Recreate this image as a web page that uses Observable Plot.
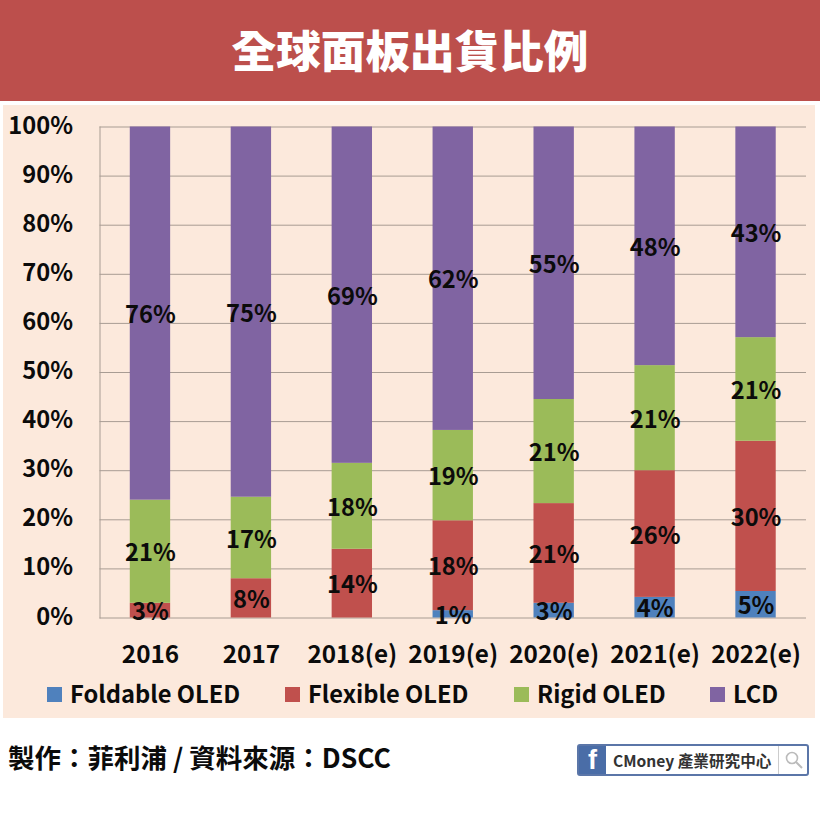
<!DOCTYPE html>
<html lang="zh-Hant">
<head>
<meta charset="utf-8">
<script src="https://cdn.jsdelivr.net/npm/d3@7"></script>
<script src="https://cdn.jsdelivr.net/npm/@observablehq/plot@0.6"></script>
<style>
html,body{margin:0;padding:0;background:#fff;}
body{width:820px;height:820px;position:relative;overflow:hidden;font-family:"Noto Sans CJK TC","Noto Sans",sans-serif;color:#0b0b0b;}
#head{position:absolute;left:0;top:0;width:820px;height:101px;background:#BC4F4C;color:#fff;font-size:44.6px;font-weight:900;line-height:97px;text-align:center;}
#panel{position:absolute;left:3px;top:105px;width:812px;height:613px;background:#FCE9DC;}
#chart{position:absolute;left:0;top:105px;}
#chart svg{background:transparent;display:block;}
.lg{position:absolute;top:679px;height:30px;line-height:30px;font-size:23.7px;font-weight:700;white-space:nowrap;}
.lg i{position:absolute;left:-23px;top:8px;width:15px;height:15px;}
.lg span{position:relative;top:-1px;}
#foot{position:absolute;left:8px;top:739px;font-size:26.5px;font-weight:700;line-height:36px;white-space:nowrap;}
#badge{position:absolute;left:577px;top:744px;width:232px;height:32px;box-sizing:border-box;border:2px solid #5B76A8;border-radius:3px;background:#fff;}
#fb{position:absolute;left:0;top:0;width:27px;height:28px;background:#4A6DA7;color:#fff;font:700 27px/28px "Liberation Sans",sans-serif;text-align:center;}
#bt{position:absolute;left:34px;top:0;height:28px;line-height:28px;font-size:15.6px;font-weight:700;color:#333;white-space:nowrap;}
#mag{position:absolute;left:199px;top:0;width:29px;height:28px;border-left:1px solid #ccc;}
</style>
</head>
<body>
<div id="head">全球面板出貨比例</div>
<div id="panel"></div>
<div id="chart"></div>
<div id="legend"></div>
<div id="foot">製作：菲利浦 / 資料來源：DSCC</div>
<div id="badge"><div id="fb">f</div><div id="bt">CMoney 產業研究中心</div><div id="mag"><svg width="29" height="28" viewBox="0 0 29 28"><circle cx="13" cy="12" r="5.5" fill="none" stroke="#bbb" stroke-width="1.6"/><line x1="17" y1="16" x2="23" y2="22" stroke="#bbb" stroke-width="2"/></svg></div></div>
<script>
const years = ["2016","2017","2018(e)","2019(e)","2020(e)","2021(e)","2022(e)"];
const seriesNames = ["Foldable OLED","Flexible OLED","Rigid OLED","LCD"];
const seriesColors = ["#4F81BD","#C0504D","#9BBB59","#8064A2"];
const foldable = [0,0,0,1.5,3,4.2,5.4];
const flexible = [3,8,14,18.3,20.3,25.8,30.6];
const rigid = [21,16.6,17.5,18.4,21.2,21.4,21.1];
const lcd = [76,75.4,68.5,61.8,55.5,48.6,42.9];
const foldableLabels = ["","","","1%","3%","4%","5%"];
const flexibleLabels = ["3%","8%","14%","18%","21%","26%","30%"];
const rigidLabels = ["21%","17%","18%","19%","21%","21%","21%"];
const lcdLabels = ["76%","75%","69%","62%","55%","48%","43%"];
const yTicks = [0,10,20,30,40,50,60,70,80,90,100];

const values = [foldable,flexible,rigid,lcd];
const labels = [foldableLabels,flexibleLabels,rigidLabels,lcdLabels];
const rows = seriesNames.flatMap((s,i)=>years.map((y,j)=>({year:y,series:s,value:values[i][j],label:labels[i][j]})));
const font = '"Noto Sans CJK TC","Noto Sans",sans-serif';

const plot = Plot.plot({
  width:820,height:613,
  marginLeft:99.5,marginRight:14,marginTop:21.5,marginBottom:100.5,
  style:{background:"transparent",fontFamily:font,color:"#0b0b0b"},
  x:{domain:years,paddingInner:0.6,paddingOuter:0.3,align:0.5,round:false,label:null},
  y:{domain:[0,100],label:null},
  color:{domain:seriesNames,range:seriesColors},
  marks:[
    Plot.gridY(yTicks,{stroke:"#A89C93",strokeOpacity:1,strokeWidth:1}),
    Plot.frame({anchor:"left",stroke:"#A89C93"}),
    Plot.axisY({ticks:yTicks,tickSize:0,tickPadding:27,tickFormat:d=>d+"%",fontSize:23.7,fontWeight:700,label:null,dy:-1}),
    Plot.axisX({tickSize:0,tickPadding:28,fontSize:24.3,fontWeight:700,label:null}),
    Plot.barY(rows,Plot.stackY({x:"year",y:"value",fill:"series",order:null})),
    Plot.text(rows,Plot.stackY({x:"year",y:"value",z:"series",order:null,text:"label",fontSize:23.7,fontWeight:700,fill:"#0b0b0b",dy:2}))
  ]
});
document.getElementById("chart").append(plot);

const legendX = [70,308,537,733];
const lg = document.getElementById("legend");
seriesNames.forEach((s,i)=>{
  const d=document.createElement("div");d.className="lg";d.style.left=legendX[i]+"px";
  const sw=document.createElement("i");sw.style.background=seriesColors[i];
  const t=document.createElement("span");t.textContent=s;
  d.append(sw,t);lg.append(d);
});
</script>
</body>
</html>
